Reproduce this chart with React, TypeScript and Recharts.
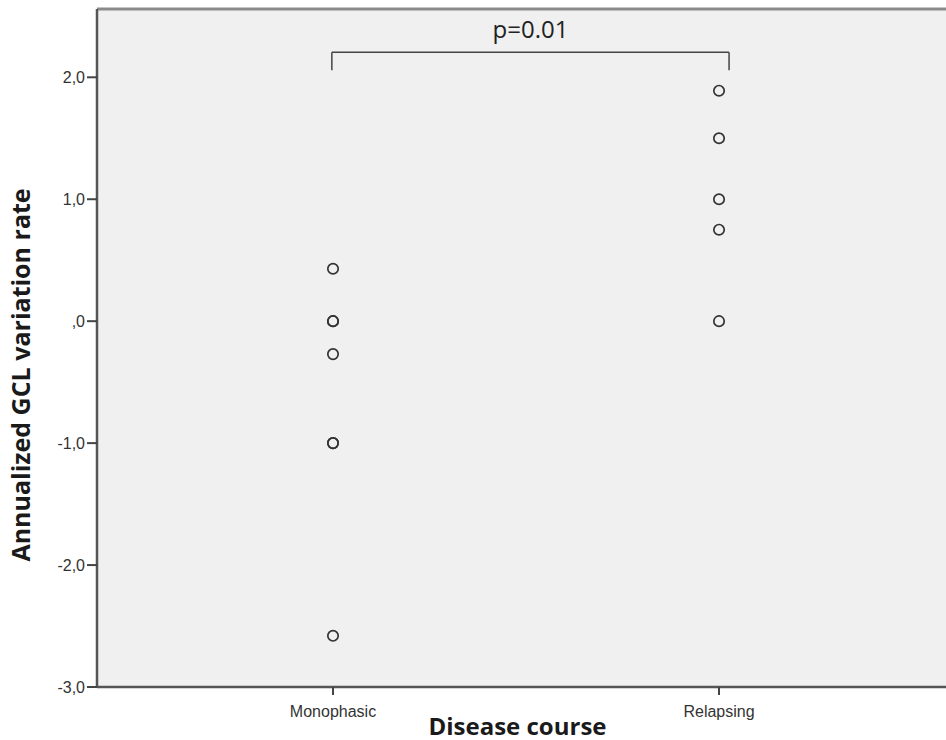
import React from 'react';
import { ScatterChart, Scatter, XAxis, YAxis, CartesianGrid, ReferenceLine, Label } from 'recharts';

const categories = ['Monophasic', 'Relapsing'];
const monophasicValues = [0.43, 0.0, 0.0, -0.27, -1.0, -1.0, -2.58];
const relapsingValues = [1.89, 1.5, 1.0, 0.75, 0.0];
const yTicks = [-3, -2, -1, 0, 1, 2];
const pValueLabel = 'p=0.01';
const xTitle = 'Disease course';
const yTitle = 'Annualized GCL variation rate';

const monoData = monophasicValues.map((v) => ({ x: 1, y: v }));
const relData = relapsingValues.map((v) => ({ x: 2, y: v }));

const X_DOMAIN: [number, number] = [0.3886, 2.588];
const Y_DOMAIN: [number, number] = [-3, 2.56];

const fmtY = (v: number) => {
  const s = v.toFixed(1).replace('.', ',');
  if (s === '0,0') return ',0';
  return s;
};

const Ring = (props: any) => (
  <circle cx={props.cx} cy={props.cy} r={5.2} fill="none" stroke="#333" strokeWidth={1.7} />
);

const YTitle = (props: any) => {
  const vb = props.viewBox || { x: 0, y: 0, width: 0, height: 0 };
  const cx = vb.x + 30;
  const cy = vb.y + vb.height / 2 + 27;
  return (
    <text
      x={cx}
      y={cy}
      transform={`rotate(-90, ${cx}, ${cy})`}
      textAnchor="middle"
      fontFamily="'Open Sans', sans-serif"
      fontWeight="bold"
      fontSize={25}
      fill="#1a1a1a"
    >
      {yTitle}
    </text>
  );
};

const XTitle = (props: any) => {
  const vb = props.viewBox || { x: 0, y: 0, width: 0, height: 0 };
  return (
    <text
      x={vb.x + vb.width / 2 - 4}
      y={vb.y + vb.height + 8}
      textAnchor="middle"
      fontFamily="'Open Sans', sans-serif"
      fontWeight="bold"
      fontSize={24}
      fill="#1a1a1a"
    >
      {xTitle}
    </text>
  );
};

export default function App() {
  return (
    <div style={{ position: 'absolute', left: 0, top: 0, width: 946, height: 740, overflow: 'hidden' }}>
      <ScatterChart width={946} height={740} margin={{ top: 9, right: 0, bottom: 13, left: 0 }}>
        <CartesianGrid fill="#f0f0f0" stroke="none" horizontal={false} vertical={false} />
        <ReferenceLine y={Y_DOMAIN[1]} stroke="#8a8a8a" strokeWidth={3} />
        <XAxis
          type="number"
          dataKey="x"
          domain={X_DOMAIN}
          allowDataOverflow
          ticks={[1, 2]}
          tickFormatter={(v: number) => categories[Math.round(v) - 1]}
          height={40}
          tickSize={8}
          tickMargin={11}
          axisLine={{ stroke: '#555', strokeWidth: 2.5 }}
          tickLine={{ stroke: '#444', strokeWidth: 2 }}
          tick={{ fontSize: 16, fill: '#333', fontFamily: "'Liberation Sans', Arial, sans-serif" }}
        >
          <Label content={<XTitle />} />
        </XAxis>
        <YAxis
          type="number"
          dataKey="y"
          domain={Y_DOMAIN}
          allowDataOverflow
          ticks={yTicks}
          tickFormatter={fmtY}
          width={97}
          tickSize={10}
          tickMargin={2}
          axisLine={{ stroke: '#555', strokeWidth: 2.5 }}
          tickLine={{ stroke: '#444', strokeWidth: 2 }}
          tick={{ fontSize: 16, fill: '#333', fontFamily: "'Liberation Sans', Arial, sans-serif" }}
        >
          <Label content={<YTitle />} />
        </YAxis>
        <ReferenceLine
          segment={[{ x: 0.997, y: 2.205 }, { x: 2.026, y: 2.205 }]}
          stroke="#444"
          strokeWidth={1.5}
          label={{
            value: pValueLabel,
            position: 'top',
            offset: 14,
            fontSize: 24,
            fill: '#222',
            fontFamily: "'Open Sans', sans-serif",
          }}
        />
        <ReferenceLine segment={[{ x: 0.997, y: 2.205 }, { x: 0.997, y: 2.057 }]} stroke="#444" strokeWidth={1.5} />
        <ReferenceLine segment={[{ x: 2.026, y: 2.205 }, { x: 2.026, y: 2.057 }]} stroke="#444" strokeWidth={1.5} />
        <Scatter data={monoData} shape={<Ring />} isAnimationActive={false} />
        <Scatter data={relData} shape={<Ring />} isAnimationActive={false} />
      </ScatterChart>
    </div>
  );
}
